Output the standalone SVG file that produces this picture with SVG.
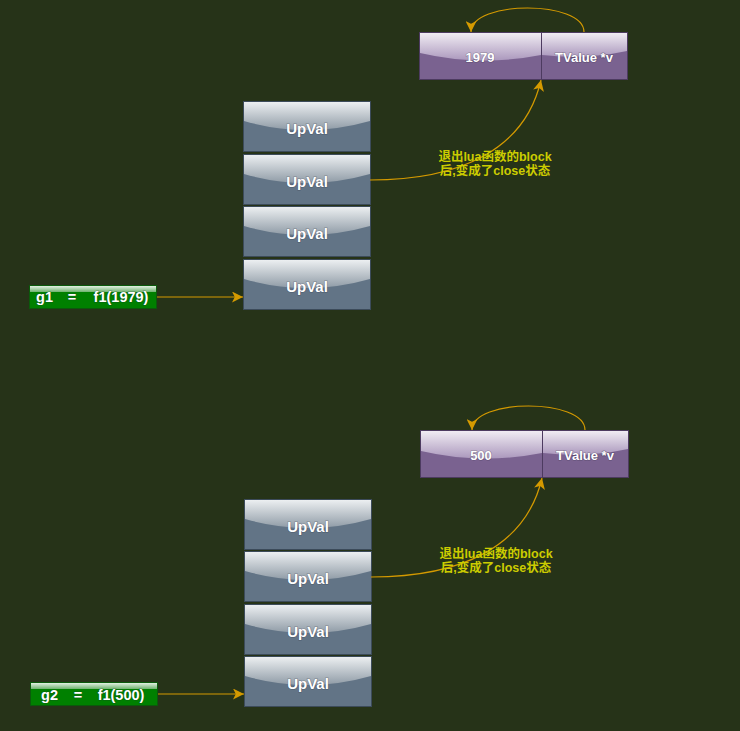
<svg xmlns="http://www.w3.org/2000/svg" width="740" height="731" viewBox="0 0 740 731">
<style>
.bg{fill:#263318}
.uv{fill:#627486;stroke:#3c4b5a;stroke-width:1}
.uvg{fill:url(#gUv)}
.pv{fill:#7a6290;stroke:#4d3b60;stroke-width:1}
.pvg{fill:url(#gPv)}
.gn{fill:#008000;stroke:#0b5a0b;stroke-width:1}
.gng{fill:url(#gGn)}
.t{font-family:"Liberation Sans",Arial,sans-serif;font-weight:bold;fill:#ffffff;text-anchor:middle;dominant-baseline:central;paint-order:stroke;stroke:rgba(30,30,50,0.35);stroke-width:1.2}
.t14{font-size:15px}
.t13{font-size:13px}
.tg{font-size:14.5px}
.lbl{font-family:"Liberation Sans","Noto Sans CJK SC",sans-serif;font-size:12.5px;font-weight:bold;fill:#cccc00;text-anchor:middle;dominant-baseline:central}
.c{fill:none;stroke:#d49a00;stroke-width:1.2}
</style>
<defs>
<linearGradient id="gUv" x1="0" y1="0" x2="0" y2="1">
<stop offset="0" stop-color="#eceff1"/>
<stop offset="1" stop-color="#8f9ba6"/>
</linearGradient>
<linearGradient id="gPv" x1="0" y1="0" x2="0" y2="1">
<stop offset="0" stop-color="#f0ecf3"/>
<stop offset="1" stop-color="#ab98bd"/>
</linearGradient>
<linearGradient id="gGn" x1="0" y1="0" x2="0" y2="1">
<stop offset="0" stop-color="#e2f0e2"/>
<stop offset="1" stop-color="#6fb36f"/>
</linearGradient>
<marker id="ah" viewBox="0 0 10 10" refX="10" refY="5" markerWidth="11" markerHeight="11" markerUnits="userSpaceOnUse" orient="auto">
<path d="M0,0 L10,5 L0,10 L2.5,5 Z" fill="#d49a00"/>
</marker>
</defs>
<rect class="bg" x="0" y="0" width="740" height="731"/>

<!-- Top section -->
<g id="tvalue1">
<rect class="pv" x="419.5" y="32.5" width="122" height="47"/>
<path class="pvg" d="M420,33 H541 V55 Q480,67 420,53 Z"/>
<rect class="pv" x="541.5" y="32.5" width="86" height="47"/>
<path class="pvg" d="M542,33 H627 V51 Q585,60 542,55 Z"/>
<text class="t t13" x="480" y="57">1979</text>
<text class="t t13" x="584" y="57">TValue *v</text>
</g>
<g id="upval1a">
<rect class="uv" x="243.5" y="101.5" width="127" height="50"/>
<path class="uvg" d="M244,102 H370 V121 Q307,139 244,121 Z"/>
<text class="t t14" x="307" y="128">UpVal</text>
</g>
<g id="upval1b">
<rect class="uv" x="243.5" y="154.5" width="127" height="50"/>
<path class="uvg" d="M244,155 H370 V174 Q307,192 244,174 Z"/>
<text class="t t14" x="307" y="181">UpVal</text>
</g>
<g id="upval1c">
<rect class="uv" x="243.5" y="206.5" width="127" height="50"/>
<path class="uvg" d="M244,207 H370 V226 Q307,244 244,226 Z"/>
<text class="t t14" x="307" y="233">UpVal</text>
</g>
<g id="upval1d">
<rect class="uv" x="243.5" y="259.5" width="127" height="50"/>
<path class="uvg" d="M244,260 H370 V279 Q307,297 244,279 Z"/>
<text class="t t14" x="307" y="286">UpVal</text>
</g>
<g id="g1">
<rect class="gn" x="29.5" y="285.5" width="127" height="23"/>
<path class="gng" d="M30,286 H156 V292 H30 Z"/>
<text class="t tg" y="297"><tspan x="44.5">g1</tspan><tspan x="72">=</tspan><tspan x="121">f1(1979)</tspan></text>
</g>

<!-- Bottom section -->
<g id="tvalue2">
<rect class="pv" x="420.5" y="430.5" width="122" height="47"/>
<path class="pvg" d="M421,431 H542 V453 Q481,465 421,451 Z"/>
<rect class="pv" x="542.5" y="430.5" width="86" height="47"/>
<path class="pvg" d="M543,431 H628 V449 Q586,458 543,453 Z"/>
<text class="t t13" x="481" y="455">500</text>
<text class="t t13" x="585" y="455">TValue *v</text>
</g>
<g id="upval2a">
<rect class="uv" x="244.5" y="499.5" width="127" height="50"/>
<path class="uvg" d="M245,500 H371 V519 Q308,537 245,519 Z"/>
<text class="t t14" x="308" y="526">UpVal</text>
</g>
<g id="upval2b">
<rect class="uv" x="244.5" y="551.5" width="127" height="50"/>
<path class="uvg" d="M245,552 H371 V571 Q308,589 245,571 Z"/>
<text class="t t14" x="308" y="578">UpVal</text>
</g>
<g id="upval2c">
<rect class="uv" x="244.5" y="604.5" width="127" height="50"/>
<path class="uvg" d="M245,605 H371 V624 Q308,642 245,624 Z"/>
<text class="t t14" x="308" y="631">UpVal</text>
</g>
<g id="upval2d">
<rect class="uv" x="244.5" y="656.5" width="127" height="50"/>
<path class="uvg" d="M245,657 H371 V676 Q308,694 245,676 Z"/>
<text class="t t14" x="308" y="683">UpVal</text>
</g>
<g id="g2">
<rect class="gn" x="30.5" y="682.5" width="127" height="23"/>
<path class="gng" d="M31,683 H157 V689 H31 Z"/>
<text class="t tg" y="695"><tspan x="49.5">g2</tspan><tspan x="78">=</tspan><tspan x="121">f1(500)</tspan></text>
</g>

<g id="connectors">
<path class="c" d="M584,32 C584,0 471,0 471,32" marker-end="url(#ah)"/>
<path class="c" d="M370,180 C460,180 525,150 541,80" marker-end="url(#ah)"/>
<path class="c" d="M157,297 L243,297" marker-end="url(#ah)"/>
<path class="c" d="M585,430 C585,398 472,398 472,430" marker-end="url(#ah)"/>
<path class="c" d="M371,577 C461,577 526,547 542,478" marker-end="url(#ah)"/>
<path class="c" d="M158,694 L244,694" marker-end="url(#ah)"/>
</g>

<g id="labels">
<text class="lbl" x="495" y="157">退出lua函数的block</text>
<text class="lbl" x="495" y="171">后,变成了close状态</text>
<text class="lbl" x="496" y="554">退出lua函数的block</text>
<text class="lbl" x="496" y="568">后,变成了close状态</text>
</g>
</svg>
